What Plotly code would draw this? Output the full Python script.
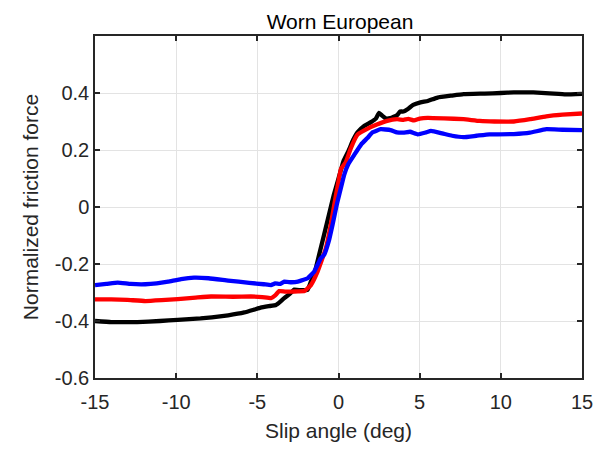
import plotly.graph_objects as go

black_x = [-15, -14, -12.4, -11, -9.9, -8.5, -7.8, -6.8, -5.8, -5.2, -4.8, -4.3, -3.85, -3.6, -3.34, -3.0,
           -2.72, -2.3, -1.9, -1.7, -1.5, -1.19, -0.9, -0.6, -0.3, 0.0, 0.3, 0.6, 0.9, 1.17, 1.6,
           2.0, 2.3, 2.5, 2.7, 2.9, 3.2, 3.6, 3.8, 4.0, 4.3, 4.6, 5.05, 5.5, 6.1, 7.0, 7.7, 9.0, 10.0, 10.8,
           12.0, 13.0, 14.0, 15.0]
black_y = [-0.400, -0.404, -0.404, -0.400, -0.396, -0.391, -0.387, -0.380, -0.370, -0.360, -0.353, -0.348,
           -0.344, -0.333, -0.320, -0.305, -0.290, -0.292, -0.290, -0.262, -0.238, -0.167, -0.100, -0.030,
           0.040, 0.100, 0.160, 0.195, 0.235, 0.262, 0.285, 0.298, 0.310, 0.330, 0.320, 0.311, 0.312,
           0.322, 0.335, 0.335, 0.345, 0.358, 0.367, 0.372, 0.384, 0.391, 0.396, 0.398, 0.400, 0.402, 0.402,
           0.399, 0.395, 0.397]

red_x = [-15, -14, -13, -11.9, -10.9, -9.9, -8.8, -7.85, -6.5, -5.4, -4.7, -4.16, -3.9, -3.65, -3.3, -2.93,
         -2.5, -2.1, -1.7, -1.29, -0.78, -0.5, -0.27, 0.0, 0.15, 0.45, 0.75, 1.17, 1.8, 2.4, 3.0, 3.6, 4.0,
         4.3, 4.65, 5.0, 5.5, 6.5, 7.7, 8.7, 9.6, 10.8, 11.8, 12.8, 13.8, 15.0]
red_y = [-0.324, -0.324, -0.326, -0.330, -0.327, -0.323, -0.318, -0.314, -0.315, -0.314, -0.316, -0.320,
         -0.310, -0.295, -0.297, -0.297, -0.296, -0.295, -0.274, -0.227, -0.145, -0.070, 0.005, 0.090,
         0.134, 0.157, 0.205, 0.254, 0.275, 0.290, 0.302, 0.308, 0.306, 0.309, 0.304, 0.310, 0.313, 0.311,
         0.308, 0.302, 0.300, 0.300, 0.308, 0.318, 0.324, 0.328]

blue_x = [-15, -14.3, -13.6, -12.8, -11.9, -11.2, -10.5, -9.7, -8.9, -8.0, -6.8, -5.5, -4.6, -4.16, -3.9,
          -3.6, -3.34, -2.9, -2.5, -1.9, -1.5, -1.09, -0.88, -0.6, -0.37, -0.1, 0.04, 0.35, 0.6, 0.97, 1.4,
          1.78, 2.1, 2.6, 3.2, 3.6, 4.0, 4.4, 4.9, 5.4, 5.7, 6.4, 7.0, 7.7, 8.5, 9.3, 9.8, 10.8, 11.8, 12.8,
          13.8, 15.0]
blue_y = [-0.274, -0.270, -0.265, -0.270, -0.271, -0.268, -0.262, -0.253, -0.248, -0.250, -0.258, -0.266,
          -0.271, -0.274, -0.268, -0.270, -0.262, -0.264, -0.262, -0.250, -0.227, -0.180, -0.167, -0.120,
          -0.063, 0.010, 0.042, 0.113, 0.150, 0.183, 0.220, 0.242, 0.262, 0.273, 0.270, 0.262, 0.261, 0.264,
          0.255, 0.262, 0.267, 0.258, 0.250, 0.245, 0.250, 0.255, 0.255, 0.256, 0.261, 0.273, 0.271, 0.270]

x_ticks = [-15, -10, -5, 0, 5, 10, 15]
x_tick_labels = ["-15", "-10", "-5", "0", "5", "10", "15"]
y_ticks = [-0.6, -0.4, -0.2, 0, 0.2, 0.4]
y_tick_labels = ["-0.6", "-0.4", "-0.2", "0", "0.2", "0.4"]

FONT = "Liberation Sans, Arial"

fig = go.Figure()
for xs, ys, col in [(black_x, black_y, "#000000"), (red_x, red_y, "#ff0000"), (blue_x, blue_y, "#0000ff")]:
    fig.add_trace(go.Scatter(x=xs, y=ys, mode="lines", line=dict(color=col, width=4.3, shape="spline", smoothing=0.3),
                             showlegend=False))

axis_common = dict(showline=True, linecolor="#262626", linewidth=1.5, mirror="ticks", ticks="inside",
                   ticklen=5, tickwidth=1.5, tickcolor="#262626", showgrid=True, gridcolor="#e3e3e3",
                   gridwidth=1, zeroline=False, tickfont=dict(family=FONT, size=20, color="#262626"))

fig.update_layout(
    width=605, height=451,
    margin=dict(l=95, r=20, t=36, b=71),
    paper_bgcolor="white", plot_bgcolor="white",
    title=dict(text="Worn European", x=0.5 * (95 + 585) / 605, xanchor="center", y=1 - 21.5 / 451, yanchor="middle",
               font=dict(family=FONT, size=21, color="#000000")),
    xaxis=dict(range=[-15, 15], tickvals=x_ticks, ticktext=x_tick_labels, ticklabelstandoff=5,
               title=dict(text="Slip angle (deg)", standoff=12,
                          font=dict(family=FONT, size=21, color="#262626")),
               **axis_common),
    yaxis=dict(range=[-0.6, 0.6], tickvals=y_ticks, ticktext=y_tick_labels,
               title=dict(text="Normalized friction force", standoff=10,
                          font=dict(family=FONT, size=21, color="#262626")),
               **axis_common),
)

fig.write_html("out.html")
